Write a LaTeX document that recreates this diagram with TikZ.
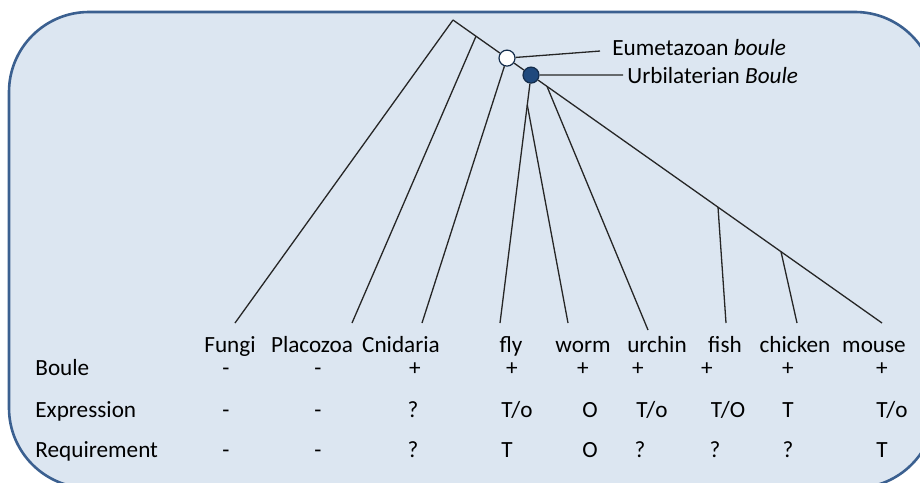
\documentclass[tikz,border=0pt]{standalone}
\usepackage{fontspec}
\setmainfont{Carlito}
\usetikzlibrary{positioning}
\definecolor{panel}{HTML}{DCE6F1}
\definecolor{frame}{HTML}{3B6090}
\definecolor{navy}{HTML}{1F497D}

\begin{document}
\begin{tikzpicture}[
  x=0.5pt, y=-0.5pt,
  br/.style={line width=0.65pt, draw=black!85},
  dot/.style={circle, draw=navy!60!black, line width=0.6pt, minimum size=8pt, inner sep=0pt},
  lab/.style={font=\fontsize{11.6}{13}\selectfont, inner sep=0pt},
  taxon/.style={lab, anchor=base},
  rowlab/.style={lab, anchor=base west}
]
  \clip (0,0) rectangle (920,482);
  \draw[fill=panel, draw=frame, line width=1.3pt, rounded corners=40pt] (9,12) rectangle (935,488);

  % tree
  \coordinate (root) at (453,20);
  \coordinate (pla-b) at (476,36.2);
  \coordinate (urc-b) at (547,86.4);
  \coordinate (wor-b) at (527.3,105);
  \coordinate (fis-b) at (718,207.2);
  \coordinate (chi-b) at (781,251.7);
  \node[dot, fill=white] (eu) at (507,58.1) {};
  \node[dot, fill=navy] (urb) at (531,75.1) {};

  \coordinate (fun-t) at (235,323);
  \coordinate (pla-t) at (352,323);
  \coordinate (cni-t) at (422,323);
  \coordinate (fly-t) at (500,323);
  \coordinate (wor-t) at (568,323);
  \coordinate (urc-t) at (648,330);
  \coordinate (fis-t) at (726,323);
  \coordinate (chi-t) at (797,323);
  \coordinate (mou-t) at (882,323);

  \draw[br] (root) -- (eu) -- (urb) -- (mou-t);
  \draw[br] (root) -- (fun-t);
  \draw[br] (pla-b) -- (pla-t);
  \draw[br] (eu) -- (cni-t);
  \draw[br] (urb) -- (fly-t);
  \draw[br] (wor-b) -- (wor-t);
  \draw[br] (urc-b) -- (urc-t);
  \draw[br] (fis-b) -- (fis-t);
  \draw[br] (chi-b) -- (chi-t);

  \node[lab, anchor=base west] (eu-lab) at (612,55) {Eumetazoan \textit{boule}};
  \node[lab, anchor=base west] (urb-lab) at (627,83) {Urbilaterian \textit{Boule}};
  \draw[br] (eu) -- ([shift={(-6pt,-2pt)}]eu-lab.west);
  \draw[br] (urb) -- ([xshift=-2pt]urb-lab.west);

  % taxa
  \foreach \x/\t [count=\i] in {230/Fungi, 312/Placozoa, 401/Cnidaria, 511/fly, 583/worm,
      657/urchin, 725/fish, 795/chicken, 874/mouse}
    \node[taxon] (tax-\i) at (\x,352) {\t};

  % table
  \node[rowlab] (boule) at (35,375) {Boule};
  \node[rowlab] (expr) at (35,417) {Expression};
  \node[rowlab] (req) at (35,457) {Requirement};

  \foreach \x/\t [count=\i] in {226/-, 318/-, 415/+, 512/+, 583/+, 638/+, 707/+, 788/+, 882/+}
    \node[taxon] (b-\i) at (\x,375) {\t};
  \foreach \x/\t [count=\i] in {226/-, 318/-, 413/?, 517/T\slash o, 590/O, 652/T\slash o,
      728/T\slash O, 788/T, 892/T\slash o}
    \node[taxon] (e-\i) at (\x,417) {\t};
  \foreach \x/\t [count=\i] in {226/-, 318/-, 413/?, 507/T, 590/O, 640/?, 715/?, 788/?, 882/T}
    \node[taxon] (r-\i) at (\x,457) {\t};
\end{tikzpicture}
\end{document}
